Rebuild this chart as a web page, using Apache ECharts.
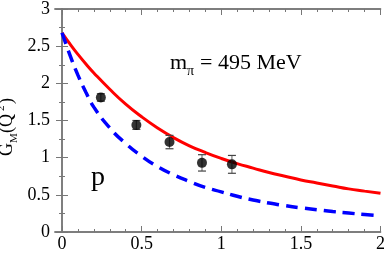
<!DOCTYPE html>
<html><head><meta charset="utf-8">
<script src="https://cdn.jsdelivr.net/npm/echarts@6/dist/echarts.min.js"></script>
<style>html,body{margin:0;padding:0;background:#fff}#c{width:388px;height:253px}</style>
</head><body><div id="c"></div>
<script>
// Curves
const curveQ2 = [0,0.05,0.1,0.15,0.2,0.3,0.4,0.5,0.6,0.7,0.8,0.9,1.0,1.1,1.2,1.3,1.4,1.5,1.6,1.7,1.8,1.9,2.0];
const redCurve = [2.68,2.53,2.39,2.26,2.14,1.92,1.72,1.55,1.40,1.27,1.16,1.07,0.99,0.92,0.86,0.80,0.75,0.70,0.66,0.62,0.58,0.55,0.52];
const blueCurve = [2.68,2.38,2.11,1.88,1.68,1.40,1.19,1.02,0.88,0.77,0.68,0.60,0.54,0.48,0.43,0.39,0.355,0.325,0.30,0.275,0.255,0.235,0.22];
// Lattice points
const dataQ2 = [0.244,0.467,0.675,0.879,1.067];
const dataGM = [1.81,1.44,1.21,0.93,0.91];
const dataErr = [0.05,0.06,0.09,0.11,0.12];
// Ticks
const xMajor = [0,0.5,1,1.5,2];
const xMinor = [0.1,0.2,0.3,0.4,0.6,0.7,0.8,0.9,1.1,1.2,1.3,1.4,1.6,1.7,1.8,1.9];

const FONT = '"Liberation Serif","DejaVu Serif",serif';
const AX = '#777';

function xAx(pos, vals, len, labels){
  return {type:'value', position:pos, min:-0.044, max:2,
    axisLine:{show:true, lineStyle:{color:AX, width:1.5}},
    axisTick:{show:true, inside:true, length:len, customValues:vals, lineStyle:{color:AX,width:1}},
    axisLabel:labels?{show:true, customValues:xMajor, fontFamily:FONT, fontSize:18, color:'#000', margin:3,
      formatter:v=>String(v)}:{show:false},
    splitLine:{show:false}};
}
function yAx(pos, labels){
  return {type:'value', position:pos, min:0, max:3, interval:0.5,
    axisLine:{show:true, lineStyle:{color:AX, width:1.5}},
    axisTick:{show:true, inside:true, length:6, lineStyle:{color:AX,width:1}},
    minorTick:{show:true, splitNumber:2, length:3, lineStyle:{color:AX,width:1}},
    axisLabel:labels?{show:true, fontFamily:FONT, fontSize:18, color:'#000', margin:5,
      formatter:v=>String(v)}:{show:false},
    splitLine:{show:false}, minorSplitLine:{show:false}};
}

const chart = echarts.init(document.getElementById('c'), null, {renderer:'canvas'});
const errData = dataQ2.map((q,i)=>[q, dataGM[i]-dataErr[i], dataGM[i]+dataErr[i]]);

const ylab = 16, ybase = 156;
chart.setOption({
  animation:false,
  grid:{left:55, right:6, top:7, bottom:17, containLabel:false},
  xAxis:[xAx('bottom', xMajor, 6, true), xAx('bottom', xMinor, 3, false),
         xAx('top', xMajor, 6, false), xAx('top', xMinor, 3, false)],
  yAxis:[yAx('left', true), yAx('right', false)],
  series:[
    {type:'line', xAxisIndex:0, yAxisIndex:0, data:curveQ2.map((q,i)=>[q, redCurve[i]]), smooth:true,
      showSymbol:false, lineStyle:{color:'#ff0000', width:3}, z:3},
    {type:'line', xAxisIndex:0, yAxisIndex:0, data:curveQ2.map((q,i)=>[q, blueCurve[i]]), smooth:true,
      showSymbol:false, lineStyle:{color:'#0000ff', width:3.5, type:[12,7], cap:'butt'}, z:3},
    {type:'custom', xAxisIndex:0, yAxisIndex:0, data:errData, z:4,
      renderItem:(params, api)=>{
        const lo = api.coord([api.value(0), api.value(1)]);
        const hi = api.coord([api.value(0), api.value(2)]);
        const w = 4;
        return {type:'group', children:[
          {type:'line', shape:{x1:lo[0],y1:lo[1],x2:hi[0],y2:hi[1]}, style:{stroke:'#777', lineWidth:1.2}},
          {type:'line', shape:{x1:lo[0]-w,y1:lo[1],x2:lo[0]+w,y2:lo[1]}, style:{stroke:'#444', lineWidth:1.2}},
          {type:'line', shape:{x1:hi[0]-w,y1:hi[1],x2:hi[0]+w,y2:hi[1]}, style:{stroke:'#444', lineWidth:1.2}}
        ]};
      }},
    {type:'scatter', xAxisIndex:0, yAxisIndex:0, data:dataQ2.map((q,i)=>[q, dataGM[i]]),
      symbol:'circle', symbolSize:10, itemStyle:{color:'#000'}, z:5}
  ],
  graphic:[
    {type:'group', x:ylab, y:ybase, rotation:Math.PI/2, children:[
      {type:'text', x:0, y:0, style:{text:'G', font:'18px '+FONT, fill:'#000', verticalAlign:'bottom'}},
      {type:'text', x:13, y:4, style:{text:'M', font:'11px '+FONT, fill:'#000', verticalAlign:'bottom'}},
      {type:'text', x:23, y:0, style:{text:'(Q', font:'18px '+FONT, fill:'#000', verticalAlign:'bottom'}},
      {type:'text', x:45, y:-9, style:{text:'2', font:'11px '+FONT, fill:'#000', verticalAlign:'bottom'}},
      {type:'text', x:52, y:0, style:{text:')', font:'18px '+FONT, fill:'#000', verticalAlign:'bottom'}}
    ]},
    {type:'text', left:170, top:52, style:{text:'m', font:'22px '+FONT, fill:'#000'}},
    {type:'text', left:187, top:64, style:{text:'π', font:'14px '+FONT, fill:'#000'}},
    {type:'text', left:200, top:52, style:{text:'= 495 MeV', font:'22px '+FONT, fill:'#000'}},
    {type:'text', left:91, top:164, style:{text:'p', font:'28px '+FONT, fill:'#000'}}
  ]
});
</script></body></html>
